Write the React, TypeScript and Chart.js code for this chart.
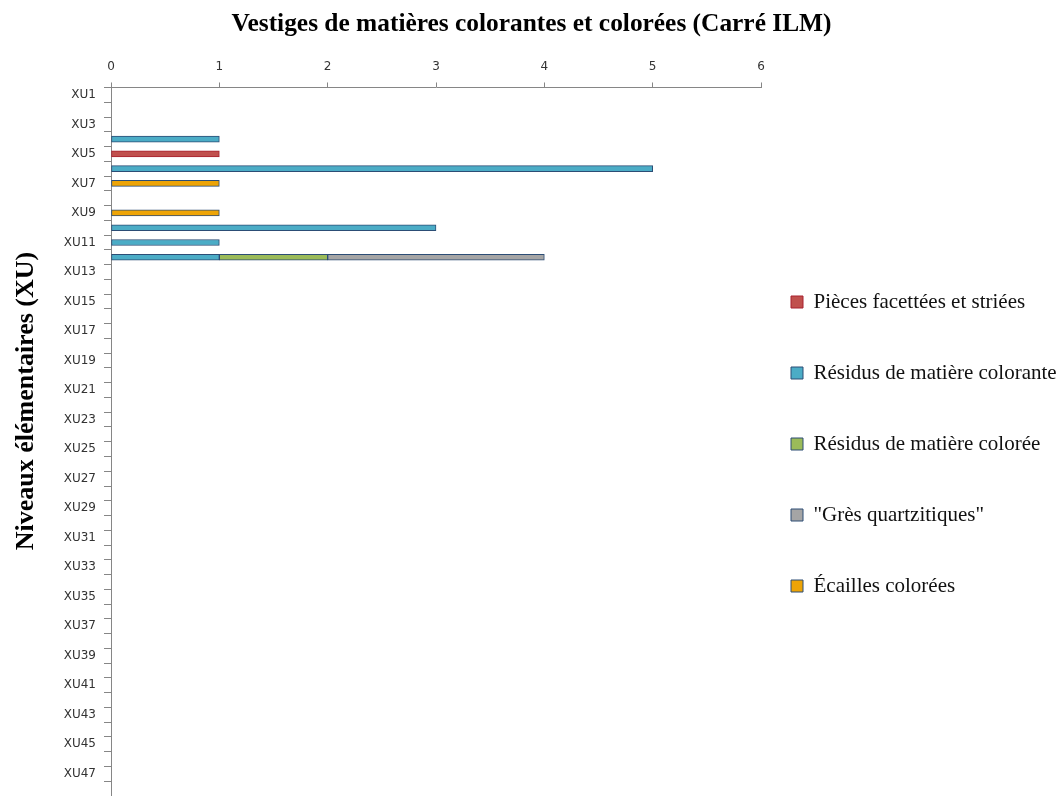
import React, { useEffect, useRef } from "react";
import { Chart, registerables } from "chart.js";

Chart.register(...registerables);

const categories = [
  "XU1", "XU2", "XU3", "XU4", "XU5", "XU6", "XU7", "XU8", "XU9", "XU10",
  "XU11", "XU12", "XU13", "XU14", "XU15", "XU16", "XU17", "XU18", "XU19", "XU20",
  "XU21", "XU22", "XU23", "XU24", "XU25", "XU26", "XU27", "XU28", "XU29", "XU30",
  "XU31", "XU32", "XU33", "XU34", "XU35", "XU36", "XU37", "XU38", "XU39", "XU40",
  "XU41", "XU42", "XU43", "XU44", "XU45", "XU46", "XU47", "XU48",
];

const N = null;

const piecesFacettees = [
  N, N, N, N, 1, N, N, N, N, N, N, N, N, N, N, N, N, N, N, N, N, N, N, N,
  N, N, N, N, N, N, N, N, N, N, N, N, N, N, N, N, N, N, N, N, N, N, N, N,
];
const residusColorante = [
  N, N, N, 1, N, 5, N, N, N, 3, 1, 1, N, N, N, N, N, N, N, N, N, N, N, N,
  N, N, N, N, N, N, N, N, N, N, N, N, N, N, N, N, N, N, N, N, N, N, N, N,
];
const residusColoree = [
  N, N, N, N, N, N, N, N, N, N, N, 1, N, N, N, N, N, N, N, N, N, N, N, N,
  N, N, N, N, N, N, N, N, N, N, N, N, N, N, N, N, N, N, N, N, N, N, N, N,
];
const gresQuartzitiques = [
  N, N, N, N, N, N, N, N, N, N, N, 2, N, N, N, N, N, N, N, N, N, N, N, N,
  N, N, N, N, N, N, N, N, N, N, N, N, N, N, N, N, N, N, N, N, N, N, N, N,
];
const ecaillesColorees = [
  N, N, N, N, N, N, 1, N, 1, N, N, N, N, N, N, N, N, N, N, N, N, N, N, N,
  N, N, N, N, N, N, N, N, N, N, N, N, N, N, N, N, N, N, N, N, N, N, N, N,
];

const seriesNames = [
  "Pièces facettées et striées",
  "Résidus de matière colorante",
  "Résidus de matière colorée",
  "\"Grès quartzitiques\"",
  "Écailles colorées",
];

const xTicks = [0, 1, 2, 3, 4, 5, 6];

const chartTitle = "Vestiges de matières colorantes et colorées (Carré ILM)";
const yTitle = "Niveaux élémentaires (XU)";

const W = 1063;
const H = 796;
const PLOT_LEFT = 111;
const PLOT_RIGHT = 761;
const PLOT_TOP = 87;
const TITLE_BLOCK = 39;
const LEGEND_ROW_PAD = 50;
const LEGEND_BOX_X = 791;
const AXIS_COLOR = "#868686";

export default function App() {
  const ref = useRef<HTMLCanvasElement | null>(null);

  useEffect(() => {
    if (!ref.current) return;
    const mk = (label: string, data: any[], bg: string, border: string) => ({
      label,
      data,
      backgroundColor: bg,
      borderColor: border,
      borderWidth: 1,
      borderSkipped: false,
      barThickness: 6,
    });

    const layoutPlugin = {
      id: "customLayout",
      beforeInit(chart: any) {
        const legend = chart.legend;
        if (legend) {
          const orig = legend.fit;
          legend.fit = function () {
            orig.call(this);
            this.width = W - PLOT_RIGHT;
          };
        }
      },
      afterLayout(chart: any) {
        const legend = chart.legend;
        if (legend) {
          legend.left = LEGEND_BOX_X - LEGEND_ROW_PAD;
          legend.right = W;
          legend.width = legend.right - legend.left;
          legend.top += 46;
          legend.bottom += 46;
        }
      },
      afterDraw(chart: any) {
        const ctx = chart.ctx;
        ctx.save();
        ctx.translate(26, 401);
        ctx.rotate(-Math.PI / 2);
        ctx.font = "bold 26px 'Liberation Serif'";
        ctx.fillStyle = "#000";
        ctx.textAlign = "center";
        ctx.textBaseline = "middle";
        ctx.fillText(yTitle, 0, 0);
        ctx.restore();
      },
    };

    const chart = new Chart(ref.current, {
      type: "bar",
      data: {
        labels: categories,
        datasets: [
          mk(seriesNames[0], piecesFacettees, "#C0504D", "#A8202E"),
          mk(seriesNames[1], residusColorante, "#4BACC6", "#2C4D75"),
          mk(seriesNames[2], residusColoree, "#9BBB59", "#2C4D75"),
          mk(seriesNames[3], gresQuartzitiques, "#A5A5A5", "#2C4D75"),
          mk(seriesNames[4], ecaillesColorees, "#EDA406", "#2C4D75"),
        ],
      },
      options: {
        indexAxis: "y",
        animation: false,
        responsive: false,
        maintainAspectRatio: false,
        layout: { padding: { left: 0, right: 0, top: 0, bottom: 0 } },
        plugins: {
          title: {
            display: true,
            text: chartTitle,
            color: "#000",
            font: { family: "'Liberation Serif'", size: 25.4, weight: "bold" },
            padding: { top: 9, bottom: 0 },
          },
          legend: {
            display: true,
            position: "right",
            align: "center",
            labels: {
              boxWidth: 12,
              boxHeight: 12,
              padding: LEGEND_ROW_PAD,
              color: "#111",
              font: { family: "'Liberation Serif'", size: 21 },
            },
          },
          tooltip: { enabled: false },
        },
        scales: {
          x: {
            type: "linear",
            position: "top",
            stacked: true,
            min: 0,
            max: 6,
            afterBuildTicks(scale: any) {
              scale.ticks = xTicks.map((v) => ({ value: v }));
            },
            afterFit(scale: any) {
              scale.height = PLOT_TOP - TITLE_BLOCK;
            },
            ticks: {
              color: "#333",
              font: { family: "'DejaVu Sans'", size: 12 },
              padding: 8,
            },
            grid: {
              display: true,
              drawOnChartArea: false,
              drawTicks: true,
              tickLength: 5,
              color: AXIS_COLOR,
            },
            border: { display: true, color: AXIS_COLOR, width: 1 },
          },
          y: {
            type: "category",
            stacked: true,
            afterFit(scale: any) {
              scale.width = PLOT_LEFT;
              scale.paddingTop = 0;
              scale.paddingBottom = 0;
            },
            ticks: {
              autoSkip: false,
              color: "#333",
              font: { family: "'DejaVu Sans'", size: 12 },
              padding: 8,
              callback(_v: any, i: number) {
                return i % 2 === 0 ? categories[i] : "";
              },
            },
            grid: {
              display: true,
              offset: true,
              drawOnChartArea: false,
              drawTicks: true,
              tickLength: 7,
              color: AXIS_COLOR,
            },
            border: { display: true, color: AXIS_COLOR, width: 1 },
          },
        },
      } as any,
      plugins: [layoutPlugin],
    });
    return () => chart.destroy();
  }, []);

  return (
    <div style={{ position: "absolute", left: 0, top: 0, width: W, height: H, background: "#fff" }}>
      <canvas ref={ref} width={W} height={H} style={{ display: "block" }} />
    </div>
  );
}
